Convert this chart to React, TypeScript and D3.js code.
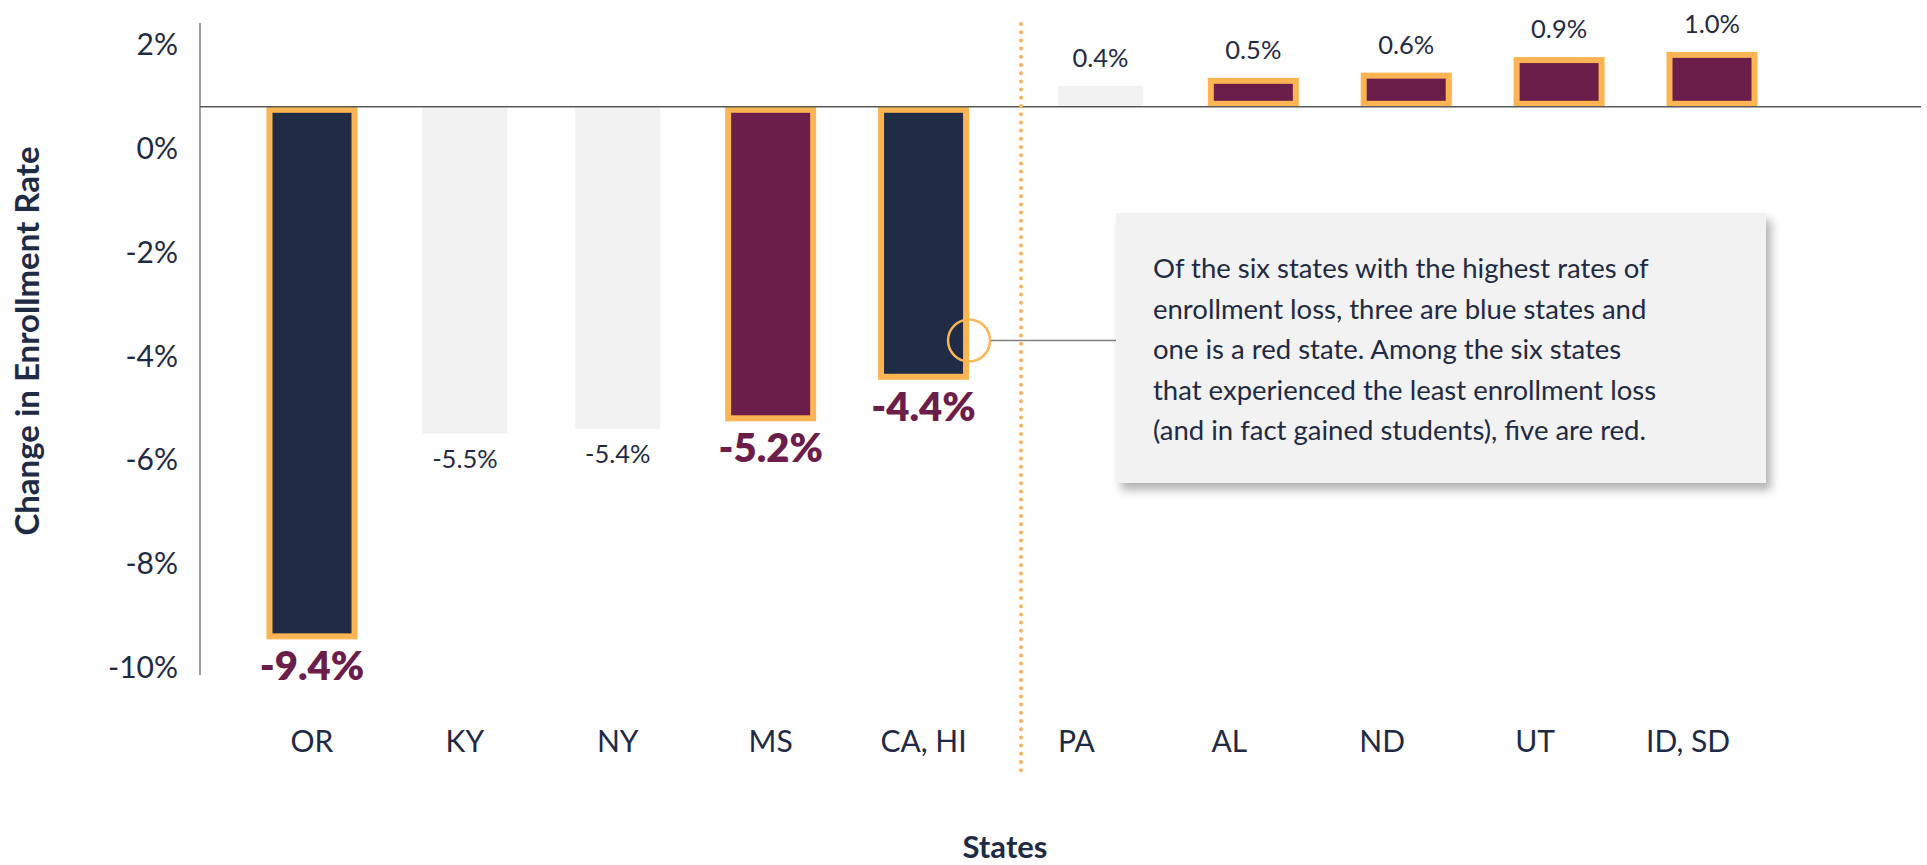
import React from "react";
import * as d3 from "d3";

const states = ["OR", "KY", "NY", "MS", "CA, HI", "PA", "AL", "ND", "UT", "ID, SD"];
const values = [-9.4, -5.5, -5.4, -5.2, -4.4, 0.4, 0.5, 0.6, 0.9, 1.0];
const party = ["blue", "none", "none", "red", "blue", "none", "red", "red", "red", "red"];
const groups = ["loss", "loss", "loss", "loss", "loss", "gain", "gain", "gain", "gain", "gain"];
const yTicks = [2, 0, -2, -4, -6, -8, -10];
const calloutLines = [
  "Of the six states with the highest rates of",
  "enrollment loss, three are blue states and",
  "one is a red state. Among the six states",
  "that experienced the least enrollment loss",
  "(and in fact gained students), five are red.",
];

const W = 1927;
const H = 865;
const NAVY = "#202c46";
const MAROON = "#6a1e49";
const ORANGE = "#fdb452";
const GREY_BAR = "#f2f2f2";
const TEXT = "#1f2a44";
const FONT = "Lato, 'Noto Sans', sans-serif";

export default function App() {
  const x = d3.scalePoint<string>().domain(states).range([312, 1688]);
  const y = d3.scaleLinear().domain([-10, 2]).range([667.5, 44.5]);
  const lineValue = 0.8; // where the reference line is drawn in the source
  const lineY = y(lineValue);
  const gainShift = 24;
  const barW = 85;
  const stroke = 6;
  const axisX = 200;

  const fill = (p: string) => (p === "blue" ? NAVY : p === "red" ? MAROON : GREY_BAR);

  const bars = states.map((s, i) => {
    const v = values[i];
    const cx = (x(s) as number) + (groups[i] === "gain" ? gainShift : 0);
    const hl = party[i] !== "none";
    const inset = hl ? stroke / 2 : 0;
    let top: number, bottom: number;
    if (v < 0) {
      top = lineY + inset;
      bottom = y(v);
    } else {
      bottom = lineY - inset;
      top = lineY - (y(0) - y(v));
    }
    return { s, v, cx, hl, top, bottom, p: party[i] };
  });

  const dividerX = ((x("CA, HI") as number) + (x("PA") as number)) / 2 + 21;
  const circleX = bars[4].cx + barW / 2 + stroke / 2;
  const circleY = y(-3.7);
  const box = { x: 1116, y: 213, w: 650, h: 270 };

  return (
    <div style={{ position: "fixed", left: 0, top: 0 }}>
      <svg width={W} height={H} style={{ display: "block" }}>
        <defs>
          <filter id="shadow" x="-10%" y="-10%" width="130%" height="140%">
            <feDropShadow dx="5" dy="7" stdDeviation="5" floodColor="#000" floodOpacity="0.3" />
          </filter>
        </defs>
        <rect width={W} height={H} fill="#fff" />

        {/* bars */}
        {bars.map((b) => (
          <rect
            key={b.s}
            x={b.cx - barW / 2}
            y={b.top}
            width={barW}
            height={Math.max(0, b.bottom - b.top)}
            fill={fill(b.p)}
            stroke={b.hl ? ORANGE : "none"}
            strokeWidth={b.hl ? stroke : 0}
          />
        ))}

        {/* axis lines */}
        <line x1={axisX} x2={axisX} y1={23} y2={675} stroke="#7f7f7f" strokeWidth={1.5} />
        <line x1={axisX} x2={1921} y1={lineY} y2={lineY} stroke="#595959" strokeWidth={1.5} />

        {/* y tick labels */}
        {yTicks.map((t) => (
          <text
            key={t}
            x={178}
            y={y(t)}
            dy="0.35em"
            textAnchor="end"
            fontFamily={FONT}
            fontSize={30}
            fill={TEXT}
          >
            {t}%
          </text>
        ))}

        {/* value labels */}
        {bars.map((b) => {
          const label = `${b.v.toFixed(1)}%`;
          if (b.v < 0 && b.hl) {
            return (
              <text key={"v" + b.s} x={b.cx} y={b.bottom + stroke / 2 + 41} textAnchor="middle"
                fontFamily={FONT} fontWeight={800} fontSize={40} fill={MAROON}>
                {label}
              </text>
            );
          }
          if (b.v < 0) {
            return (
              <text key={"v" + b.s} x={b.cx} y={b.bottom + 34} textAnchor="middle"
                fontFamily={FONT} fontSize={25.5} fill={TEXT}>
                {label}
              </text>
            );
          }
          const outerTop = b.top - (b.hl ? stroke / 2 : 0);
          return (
            <text key={"v" + b.s} x={b.cx} y={outerTop - 19} textAnchor="middle"
              fontFamily={FONT} fontSize={25.5} fill={TEXT}>
              {label}
            </text>
          );
        })}

        {/* x category labels */}
        {states.map((s) => (
          <text key={"x" + s} x={x(s) as number} y={752} textAnchor="middle"
            fontFamily={FONT} fontSize={30} fill={TEXT}>
            {s}
          </text>
        ))}

        {/* divider */}
        <line x1={dividerX} x2={dividerX} y1={24} y2={775} stroke={ORANGE} strokeWidth={4}
          strokeLinecap="round" strokeDasharray="0 8.2" />

        {/* callout */}
        <line x1={circleX + 21} x2={box.x} y1={circleY} y2={circleY} stroke="#7f7f7f" strokeWidth={1.5} />
        <circle cx={circleX} cy={circleY} r={21} fill="none" stroke={ORANGE} strokeWidth={2.5} />
        <rect x={box.x} y={box.y} width={box.w} height={box.h} fill="#f2f2f2" filter="url(#shadow)" />
        <text fontFamily={FONT} fontSize={27.5} fill={TEXT}>
          {calloutLines.map((l, i) => (
            <tspan key={i} x={1153} y={278 + i * 40.5}>{l}</tspan>
          ))}
        </text>

        {/* axis titles */}
        <text transform={`translate(39,341) rotate(-90)`} textAnchor="middle"
          fontFamily={FONT} fontWeight={700} fontSize={33} fill={TEXT}>
          Change in Enrollment Rate
        </text>
        <text x={1005} y={858} textAnchor="middle" fontFamily={FONT} fontWeight={700} fontSize={31} fill={TEXT}>
          States
        </text>
      </svg>
    </div>
  );
}
